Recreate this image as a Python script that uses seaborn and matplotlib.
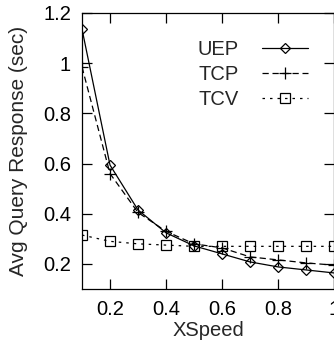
import matplotlib
matplotlib.use("Agg")
import matplotlib.pyplot as plt
import numpy as np
import pandas as pd
import seaborn as sns

xspeed = [0.1, 0.2, 0.3, 0.4, 0.5, 0.6, 0.7, 0.8, 0.9, 1.0]
uep = [1.136, 0.594, 0.415, 0.324, 0.272, 0.240, 0.208, 0.188, 0.176, 0.164]
tcp = [0.985, 0.560, 0.405, 0.330, 0.280, 0.264, 0.228, 0.216, 0.204, 0.195]
tcv = [0.315, 0.290, 0.280, 0.275, 0.270, 0.270, 0.270, 0.270, 0.270, 0.270]

series = ["UEP", "TCP", "TCV"]
markers = {"UEP": "D", "TCP": "+", "TCV": "s"}
dashes = {"UEP": None, "TCP": (5, 3), "TCV": (2, 4)}
msizes = {"UEP": 5.5, "TCP": 8, "TCV": 7.5}

df = pd.DataFrame({
    "XSpeed": xspeed * 3,
    "value": uep + tcp + tcv,
    "series": ["UEP"] * 10 + ["TCP"] * 10 + ["TCV"] * 10,
})

sns.set_theme(style="ticks")
plt.rcParams["font.family"] = ["Liberation Sans", "DejaVu Sans"]

fig = plt.figure(figsize=(3.34, 3.42), dpi=100)
ax = fig.add_axes([82 / 334, 1 - 289 / 342, (334 - 82) / 334, (289 - 13) / 342])

for name in series:
    sub = df[df["series"] == name]
    ls = "-" if dashes[name] is None else (0, dashes[name])
    sns.lineplot(data=sub, x="XSpeed", y="value", ax=ax, color="black",
                 linewidth=0.9, linestyle=ls, marker=markers[name],
                 markersize=msizes[name],
                 markerfacecolor="none", markeredgecolor="black",
                 markeredgewidth=0.9, label=name)

ax.set_xlim(0.1, 1.0)
ax.set_ylim(0.1, 1.2)
ax.set_xticks([0.2, 0.4, 0.6, 0.8, 1.0])
ax.set_xticklabels(["0.2", "0.4", "0.6", "0.8", "1"])
ax.set_yticks([0.2, 0.4, 0.6, 0.8, 1.0, 1.2])
ax.set_yticklabels(["0.2", "0.4", "0.6", "0.8", "1", "1.2"])
ax.tick_params(direction="in", length=7, width=0.9, top=True, right=True,
               labelsize=14.5, pad=8, colors="black")
for s in ax.spines.values():
    s.set_linewidth(0.9)
    s.set_color("black")
ax.set_xlabel("XSpeed", fontsize=14.5, labelpad=1)
ax.set_ylabel("Avg Query Response (sec)", fontsize=15, labelpad=11)

ax.legend(loc="upper right", bbox_to_anchor=(0.928, 0.93), frameon=False,
          markerfirst=False, fontsize=14.5, handlelength=2.25,
          labelspacing=0.3, handletextpad=1.2, borderaxespad=0)

fig.savefig("out.png", dpi=100)
